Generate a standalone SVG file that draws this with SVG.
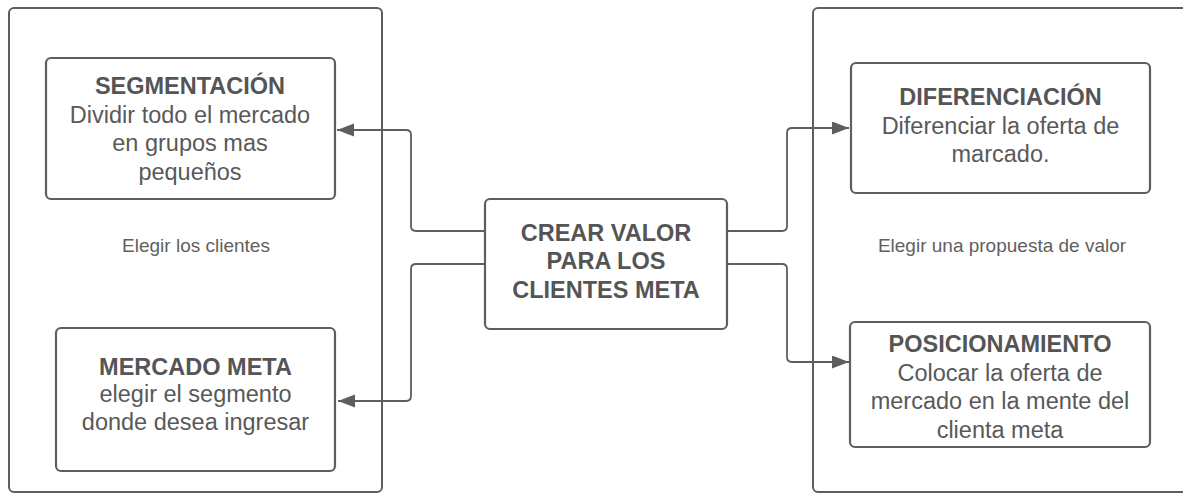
<svg xmlns="http://www.w3.org/2000/svg" width="1183" height="494" viewBox="0 0 1183 494">
<defs>
<style>
.container{fill:#ffffff;stroke:#5e5e5e;stroke-width:2}
.node{fill:#ffffff;stroke:#5e5e5e;stroke-width:2.2}
.conn{fill:none;stroke:#5e5e5e;stroke-width:1.8}
text{font-family:"Liberation Sans",Arial,sans-serif;fill:#595959;text-anchor:middle}
.t{font-size:23.5px}
.b{font-size:23.5px;font-weight:bold;fill:#555555}
.s{font-size:19px;fill:#5f5f5f}
</style>
<marker id="arr" markerUnits="userSpaceOnUse" markerWidth="18" markerHeight="14" refX="17" refY="6.5" orient="auto">
<path d="M0,0 L17,6.5 L0,13 z" fill="#5e5e5e"/>
</marker>
</defs>
<g id="container-left">
<rect class="container" x="9" y="8" width="373" height="484" rx="5"/>
<text class="s" x="196" y="252">Elegir los clientes</text>
</g>
<g id="container-right">
<rect class="container" x="813" y="8" width="376" height="484" rx="5"/>
<text class="s" x="1002" y="252">Elegir una propuesta de valor</text>
</g>
<g id="connectors">
<path class="conn" d="M485,231 H416 Q411,231 411,226 V135 Q411,130 406,130 H337" marker-end="url(#arr)"/>
<path class="conn" d="M485,264 H416 Q411,264 411,269 V396 Q411,401 406,401 H338" marker-end="url(#arr)"/>
<path class="conn" d="M727,231 H782 Q787,231 787,226 V133 Q787,128 792,128 H849" marker-end="url(#arr)"/>
<path class="conn" d="M727,264 H782 Q787,264 787,269 V357 Q787,362 792,362 H849" marker-end="url(#arr)"/>
</g>
<g id="segmentacion">
<rect class="node" x="46" y="58" width="289" height="141" rx="5"/>
<text class="b" x="190" y="93.5">SEGMENTACIÓN</text>
<text class="t" x="190" y="122.5">Dividir todo el mercado</text>
<text class="t" x="190" y="151">en grupos mas</text>
<text class="t" x="190" y="179.5">pequeños</text>
</g>
<g id="mercado-meta">
<rect class="node" x="56" y="328" width="279" height="143" rx="5"/>
<text class="b" x="195.5" y="374.5">MERCADO META</text>
<text class="t" x="195.5" y="402">elegir el segmento</text>
<text class="t" x="195.5" y="430">donde desea ingresar</text>
</g>
<g id="crear-valor">
<rect class="node" x="485" y="199" width="242" height="130" rx="5"/>
<text class="b" x="606" y="241">CREAR VALOR</text>
<text class="b" x="606" y="269">PARA LOS</text>
<text class="b" x="606" y="297.5">CLIENTES META</text>
</g>
<g id="diferenciacion">
<rect class="node" x="851" y="63" width="299" height="130" rx="5"/>
<text class="b" x="1000.5" y="105">DIFERENCIACIÓN</text>
<text class="t" x="1000.5" y="133.5">Diferenciar la oferta de</text>
<text class="t" x="1000.5" y="162">marcado.</text>
</g>
<g id="posicionamiento">
<rect class="node" x="850" y="322" width="300" height="125" rx="5"/>
<text class="b" x="1000" y="352">POSICIONAMIENTO</text>
<text class="t" x="1000" y="380.5">Colocar la oferta de</text>
<text class="t" x="1000" y="409">mercado en la mente del</text>
<text class="t" x="1000" y="437.5">clienta meta</text>
</g>
</svg>
